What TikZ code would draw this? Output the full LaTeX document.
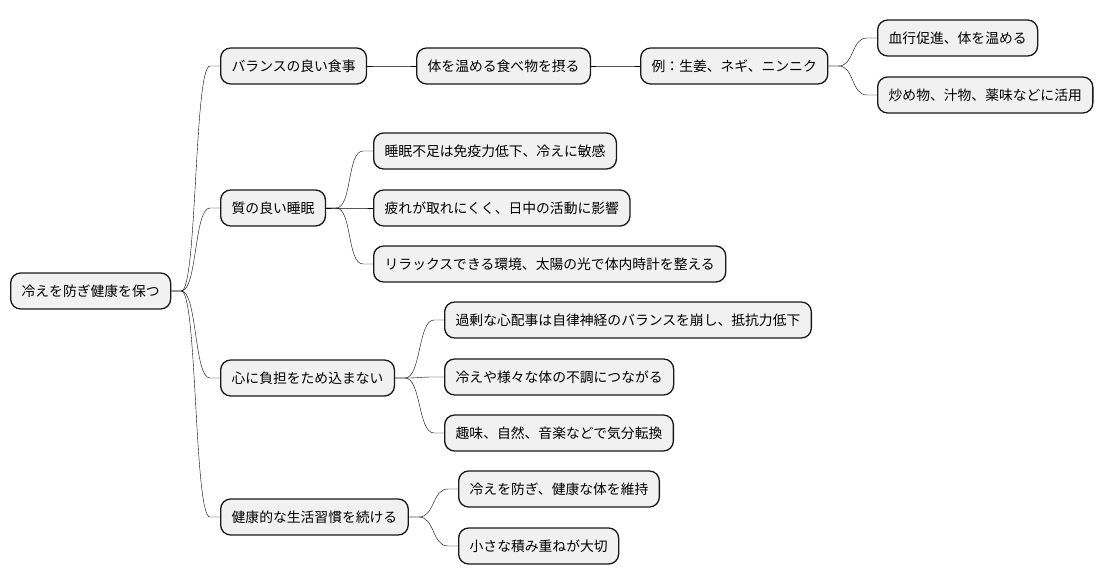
\documentclass[tikz,border=0pt]{standalone}
\usepackage{fontspec}
\newfontfamily\cjk{Noto Sans CJK JP}
\usetikzlibrary{calc}
\definecolor{boxfill}{HTML}{F1F1F1}
\definecolor{boxline}{HTML}{181818}
\tikzstyle{topic}=[draw=boxline,fill=boxfill,line width=1.3pt,rounded corners=10pt,
	anchor=west,minimum height=36pt,inner xsep=11pt,inner ysep=0pt,
	font=\cjk\fontsize{13.8}{15}\selectfont]
\tikzstyle{branch}=[draw=boxline,line width=.9pt,
	to path={-- ++(10pt,0) .. controls +(16pt,0) and +(-16pt,0) .. ($(\tikztotarget)+(-10pt,0)$) -- (\tikztotarget)}]

\begin{document}
\begin{tikzpicture}[x=1pt,y=-1pt]
	\useasboundingbox (0,0) rectangle (1104,583);

	%root
	\node[topic] (root) at (10,291) {冷えを防ぎ健康を保つ};

	%first level
	\node[topic] (diet)  at (220,66)  {バランスの良い食事};
	\node[topic] (sleep) at (220,208) {質の良い睡眠};
	\node[topic] (mind)  at (220,378) {心に負担をため込まない};
	\node[topic] (habit) at (220,517) {健康的な生活習慣を続ける};

	%diet
	\node[topic] (food) at (416,66) {体を温める食べ物を摂る};
	\node[topic] (ex)   at (640,66) {例：生姜、ネギ、ニンニク};
	\node[topic] (ex1)  at (877,38) {血行促進、体を温める};
	\node[topic] (ex2)  at (877,95) {炒め物、汁物、薬味などに活用};

	%sleep
	\node[topic] (sleep1) at (373,151) {睡眠不足は免疫力低下、冷えに敏感};
	\node[topic] (sleep2) at (373,208) {疲れが取れにくく、日中の活動に影響};
	\node[topic] (sleep3) at (373,264) {リラックスできる環境、太陽の光で体内時計を整える};

	%mind
	\node[topic] (mind1) at (444,320) {過剰な心配事は自律神経のバランスを崩し、抵抗力低下};
	\node[topic] (mind2) at (444,377) {冷えや様々な体の不調につながる};
	\node[topic] (mind3) at (444,433) {趣味、自然、音楽などで気分転換};

	%habit
	\node[topic] (habit1) at (458,489) {冷えを防ぎ、健康な体を維持};
	\node[topic] (habit2) at (458,546) {小さな積み重ねが大切};

	%connectors
	\foreach \a/\b in {root/diet,root/sleep,root/mind,root/habit,
		diet/food,food/ex,ex/ex1,ex/ex2,
		sleep/sleep1,sleep/sleep2,sleep/sleep3,
		mind/mind1,mind/mind2,mind/mind3,
		habit/habit1,habit/habit2}
		\draw (\a.east) to[branch] (\b.west);
\end{tikzpicture}
\end{document}
